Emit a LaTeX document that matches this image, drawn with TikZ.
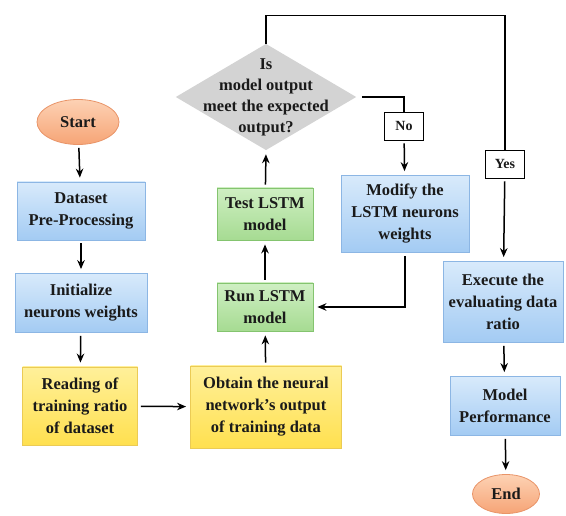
\documentclass[tikz,border=0pt]{standalone}
\usepackage{fontspec}
\setmainfont{Liberation Serif}
\usetikzlibrary{arrows.meta}
\usetikzlibrary{shapes.geometric}
\definecolor{blueTop}{HTML}{D8EAFB}
\definecolor{blueBot}{HTML}{A3CBF3}
\definecolor{blueLine}{HTML}{8CB6E4}
\definecolor{yelTop}{HTML}{FFF09A}
\definecolor{yelBot}{HTML}{FFE04F}
\definecolor{yelLine}{HTML}{EBCB55}
\definecolor{grnTop}{HTML}{CFEFC3}
\definecolor{grnBot}{HTML}{A6DB92}
\definecolor{grnLine}{HTML}{84C46F}
\definecolor{orgTop}{HTML}{FDD2B4}
\definecolor{orgBot}{HTML}{F6A476}
\definecolor{orgLine}{HTML}{E99468}
\definecolor{decFill}{HTML}{D3D3D3}
\definecolor{inkText}{HTML}{1A1A1A}

\begin{document}
\begin{tikzpicture}[x=1pt,y=-1pt,->,>={Stealth[length=9pt,width=7.5pt]},
	line width=1.5pt,shorten >=4pt,shorten <=3pt,
	font=\bfseries\fontsize{16.5}{22}\selectfont]
	\tikzset{
		every node/.style={align=center,inner sep=1pt,text=inkText},
		blueblock/.style={rectangle,draw=blueLine,line width=0.8pt,top color=blueTop,bottom color=blueBot},
		yelblock/.style={rectangle,draw=yelLine,line width=0.8pt,top color=yelTop,bottom color=yelBot},
		grnblock/.style={rectangle,draw=grnLine,line width=0.8pt,top color=grnTop,bottom color=grnBot},
		terminal/.style={ellipse,draw=orgLine,line width=0.8pt,top color=orgTop,bottom color=orgBot},
		decision/.style={diamond,draw=decFill,fill=decFill,minimum width=178pt,minimum height=105pt,inner sep=0pt},
		answer/.style={rectangle,draw=black,fill=white,line width=0.8pt,minimum width=39pt,minimum height=28pt,font=\bfseries\fontsize{14}{16}\selectfont}
	}
	\useasboundingbox[fill=white] (0,0) rectangle (566,516);
	
	\node[terminal,minimum width=82pt,minimum height=45pt] (start) at (78,122) {Start};
	\node[blueblock,minimum width=128pt,minimum height=58pt] (prep) at (81,211) {Dataset\\Pre-Processing};
	\node[blueblock,minimum width=132pt,minimum height=59pt] (init) at (81,303) {Initialize\\neurons weights};
	\node[yelblock,minimum width=115pt,minimum height=78pt] (read) at (80,406) {Reading of\\training ratio\\of dataset};
	\node[yelblock,minimum width=151pt,minimum height=82pt] (obtain) at (266,407) {Obtain the neural\\network's output\\of training data};
	\node[grnblock,minimum width=96pt,minimum height=48pt] (run) at (265,307) {Run LSTM\\model};
	\node[grnblock,minimum width=96pt,minimum height=52pt] (test) at (265,214) {Test LSTM\\model};
	\node[decision] (dec) at (266,97) {};
	\node[font=\bfseries\fontsize{16.5}{21}\selectfont] at (dec.center) {Is\\model output\\meet the expected\\output?};
	\node[answer] (no) at (404,126) {No};
	\node[blueblock,minimum width=128pt,minimum height=77pt] (modify) at (405,214) {Modify the\\LSTM neurons\\weights};
	\node[answer] (yes) at (505,164) {Yes};
	\node[blueblock,minimum width=120pt,minimum height=81pt] (exec) at (503,302) {Execute the\\evaluating data\\ratio};
	\node[blueblock,minimum width=110pt,minimum height=59pt] (perf) at (505,406) {Model\\Performance};
	\node[terminal,minimum width=67pt,minimum height=39pt] (end) at (506,494) {End};
	
	\draw (start) -- (prep);
	\draw (prep) -- (init);
	\draw (init) -- (read);
	\draw (read) -- (obtain);
	\draw (obtain) -- (run);
	\draw (run) -- (test);
	\draw (test) -- (dec.south);
	\draw[-,shorten <=0pt,shorten >=0pt] (dec.north) -- ++(0,-28) -| (yes.north);
	\draw (yes) -- (exec);
	\draw[-,shorten <=6pt,shorten >=0pt] (dec.east) -| (no.north);
	\draw (no) -- (modify);
	\draw (modify.south) |- (run.east);
	\draw (exec) -- (perf);
	\draw (perf) -- (end);
\end{tikzpicture}
\end{document}
